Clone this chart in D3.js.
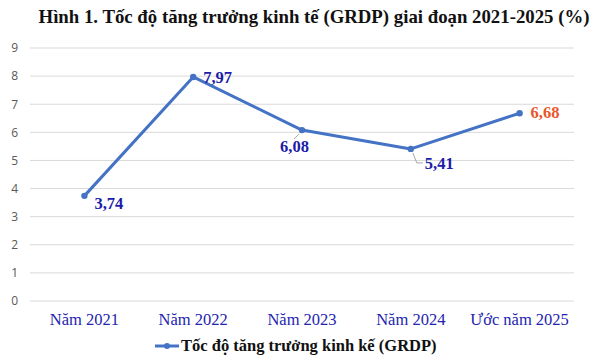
<!DOCTYPE html>
<html><head><meta charset="utf-8">
<script src="https://cdn.jsdelivr.net/npm/d3@7"></script>
<style>body{margin:0;background:#fff}svg{display:block}</style>
</head><body>
<svg id="c" width="595" height="361"></svg>
<script>
const categories = ["Năm 2021","Năm 2022","Năm 2023","Năm 2024","Ước năm 2025"];
const values = [3.74, 7.97, 6.08, 5.41, 6.68];
const valueLabels = ["3,74","7,97","6,08","5,41","6,68"];
const yTicks = [0,1,2,3,4,5,6,7,8,9];
const title = "Hình 1. Tốc độ tăng trưởng kinh tế (GRDP) giai đoạn 2021-2025 (%)";
const seriesName = "Tốc độ tăng trưởng kinh kế (GRDP)";

const svg = d3.select("#c");
const L = 30, R = 574, T = 48, B = 301;
const x = d3.scaleBand().domain(categories).range([L, R]);
const y = d3.scaleLinear().domain([0, 9]).range([B, T]);
const cx = d => x(d) + x.bandwidth()/2;

svg.append("text").attr("x", 314).attr("y", 23).attr("text-anchor","middle")
  .attr("font-family","Liberation Serif").attr("font-weight","bold").attr("font-size",18.8)
  .attr("fill","#111").text(title);

// grid
svg.append("g").selectAll("line").data(yTicks).join("line")
  .attr("x1", L).attr("x2", R).attr("y1", d=>y(d)).attr("y2", d=>y(d))
  .attr("stroke","#d9d9d9").attr("stroke-width",1);

// y axis
const ya = svg.append("g").attr("transform",`translate(${L},0)`)
  .call(d3.axisLeft(y).tickValues(yTicks).tickSize(0).tickPadding(12));
ya.select(".domain").remove();
ya.selectAll("text").attr("font-family","Open Sans, Liberation Sans").attr("font-size",12).attr("fill","#595959");

// x axis
const xa = svg.append("g").attr("transform",`translate(0,${B})`)
  .call(d3.axisBottom(x).tickSize(0).tickPadding(12));
xa.select(".domain").remove();
xa.selectAll("text").attr("font-family","Liberation Serif").attr("font-size",16.5).attr("fill","#2323b0");

// leader lines
const leaders = [2,3];
svg.append("g").selectAll("line").data(leaders).join("line")
  .attr("x1", i=>cx(categories[i])+ (i===2?-3:2)).attr("y1", i=>y(values[i])+4)
  .attr("x2", i=>cx(categories[i])+ (i===2?-8:6)).attr("y2", i=>y(values[i])+(i===2?9:14))
  .attr("stroke","#a6a6a6").attr("stroke-width",1);
svg.append("line").attr("x1", cx(categories[3])+6).attr("x2", cx(categories[3])+12)
  .attr("y1", y(values[3])+14).attr("y2", y(values[3])+14).attr("stroke","#a6a6a6");

// line
const line = d3.line().x((d,i)=>cx(categories[i])).y(d=>y(d));
svg.append("path").datum(values).attr("d", line).attr("fill","none")
  .attr("stroke","#4472c4").attr("stroke-width",3).attr("stroke-linejoin","round");
svg.append("g").selectAll("circle").data(values).join("circle")
  .attr("cx",(d,i)=>cx(categories[i])).attr("cy",d=>y(d)).attr("r",3.2).attr("fill","#4472c4");

// labels
const off = [[10,13],[10,6],[-22,22],[14,20],[11,5]];
svg.append("g").selectAll("text").data(values).join("text")
  .attr("x",(d,i)=>cx(categories[i])+off[i][0]).attr("y",(d,i)=>y(d)+off[i][1])
  .attr("font-family","Liberation Serif").attr("font-weight","bold").attr("font-size",16.5)
  .attr("fill",(d,i)=> i===4 ? "#e8582a" : "#1c1ca8")
  .text((d,i)=>valueLabels[i]);

// legend
const lg = svg.append("g");
lg.append("line").attr("x1",155).attr("x2",179).attr("y1",346).attr("y2",346)
  .attr("stroke","#4472c4").attr("stroke-width",3);
lg.append("circle").attr("cx",167).attr("cy",346).attr("r",3).attr("fill","#4472c4");
lg.append("text").attr("x",181).attr("y",351).attr("font-family","Liberation Serif")
  .attr("font-weight","bold").attr("font-size",16.5).attr("fill","#111").text(seriesName);
</script>
</body></html>
